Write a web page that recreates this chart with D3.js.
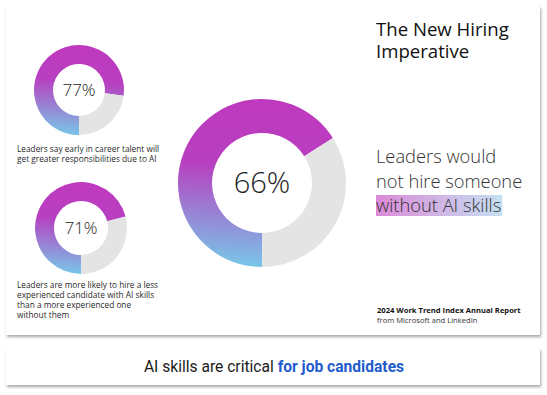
<!DOCTYPE html>
<html>
<head>
<meta charset="utf-8">
<script src="https://cdn.jsdelivr.net/npm/d3@7"></script>
<style>
  body { margin: 0; background: #fff; }
  svg { display: block; }
</style>
</head>
<body>
<script>
// values
const shares = [77, 71, 66];
const shareLabels = ['77%', '71%', '66%'];
const captionSmall1 = ['Leaders say early in career talent will', 'get greater responsibilities due to AI'];
const captionSmall2 = ['Leaders are more likely to hire a less', 'experienced candidate with AI skills', 'than a more experienced one', 'without them'];
const titleLines = ['The New Hiring', 'Imperative'];
const claimLines = ['Leaders would', 'not hire someone'];
const claimHighlight = 'without AI skills';
const sourceLines = ['2024 Work Trend Index Annual Report', 'from Microsoft and LinkedIn'];
const bannerParts = ['AI skills are critical ', 'for job candidates'];

const width = 547;
const height = 395;
const font = '"Open Sans", "Noto Sans", sans-serif';

const svg = d3.select('body').append('svg').attr('width', width).attr('height', height);
const defs = svg.append('defs');

// card shadow
const shadow = defs.append('filter').attr('id', 'shadow').attr('x', '-5%').attr('y', '-5%').attr('width', '110%').attr('height', '115%');
shadow.append('feDropShadow').attr('dx', 1).attr('dy', 2).attr('stdDeviation', 1.6).attr('flood-color', '#000').attr('flood-opacity', 0.35);

const hlGrad = defs.append('linearGradient').attr('id', 'hl').attr('x1', 0).attr('y1', 0).attr('x2', 1).attr('y2', 0);
hlGrad.append('stop').attr('offset', 0).attr('stop-color', '#dc8ad9');
hlGrad.append('stop').attr('offset', 1).attr('stop-color', '#c4e0f2');

// cards
svg.append('rect').attr('x', 6).attr('y', 6).attr('width', 534).attr('height', 329)
	.attr('fill', '#fff').attr('filter', 'url(#shadow)');
svg.append('rect').attr('x', 6).attr('y', 348).attr('width', 534).attr('height', 37)
	.attr('fill', '#fff').attr('filter', 'url(#shadow)');

/*
	donuts
*/
const donutLayout = [
	{ cx: 79, cy: 90, r: 45, inner: 26, fontSize: 17 },
	{ cx: 81, cy: 228, r: 46, inner: 27, fontSize: 17 },
	{ cx: 262, cy: 183, r: 84, inner: 50, fontSize: 29 }
];

const pie = d3.pie().sort(null).startAngle(Math.PI).endAngle(3 * Math.PI);

shares.forEach((share, i) => {
	const l = donutLayout[i];
	const arc = d3.arc().innerRadius(l.inner).outerRadius(l.r);
	const g = svg.append('g').attr('transform', `translate(${l.cx},${l.cy})`);
	const slices = pie([share, 100 - share]);

	// gradient box spans the ring
	const grad = defs.append('linearGradient').attr('id', 'ring' + i)
		.attr('gradientUnits', 'userSpaceOnUse')
		.attr('x1', 0).attr('y1', -l.r).attr('x2', -l.r * 0.15).attr('y2', l.r);
	grad.append('stop').attr('offset', 0).attr('stop-color', '#bf39be');
	grad.append('stop').attr('offset', 0.4).attr('stop-color', '#b83fc0');
	grad.append('stop').attr('offset', 1).attr('stop-color', '#78c6e8');

	g.selectAll('path').data(slices).join('path')
		.attr('d', arc)
		.attr('fill', (d, j) => (j === 0 ? `url(#ring${i})` : '#e4e4e4'));

	g.append('text')
		.attr('text-anchor', 'middle')
		.attr('dy', '0.35em')
		.style('font-family', font)
		.style('font-weight', 300)
		.style('font-size', l.fontSize + 'px')
		.attr('fill', '#222')
		.text(shareLabels[i]);
});

// captions under the small donuts
const captions = [
	{ lines: captionSmall1, x: 17, y: 152 },
	{ lines: captionSmall2, x: 17, y: 288 }
];
captions.forEach((c) => {
	svg.append('g').selectAll('text').data(c.lines).join('text')
		.attr('x', c.x)
		.attr('y', (d, i) => c.y + i * 10)
		.style('font-family', font)
		.style('font-size', '8.3px')
		.attr('fill', '#2a2a2a')
		.text((d) => d);
});

// title
svg.append('g').selectAll('text').data(titleLines).join('text')
	.attr('x', 376)
	.attr('y', (d, i) => 36 + i * 22)
	.style('font-family', font)
	.style('font-size', '18.6px')
	.attr('fill', '#111')
	.text((d) => d);

// claim
const claimX = 376;
const hlRect = svg.append('rect').attr('x', claimX).attr('y', 195).attr('height', 21).attr('fill', 'url(#hl)');
const claim = svg.append('g').selectAll('text').data(claimLines.concat([claimHighlight])).join('text')
	.attr('x', claimX)
	.attr('y', (d, i) => 163 + i * 24.5)
	.style('font-family', font)
	.style('font-weight', 300)
	.style('font-size', '18.3px')
	.attr('fill', '#333')
	.text((d) => d);
hlRect.attr('width', claim.nodes()[2].getComputedTextLength() + 1);

// source
svg.append('g').selectAll('text').data(sourceLines).join('text')
	.attr('x', 377)
	.attr('y', (d, i) => 313 + i * 10)
	.style('font-family', font)
	.style('font-weight', (d, i) => (i === 0 ? 700 : 400))
	.style('font-size', '7.6px')
	.attr('fill', (d, i) => (i === 0 ? '#111' : '#333'))
	.text((d) => d);

// banner
const banner = svg.append('text')
	.attr('x', 274)
	.attr('y', 372)
	.attr('text-anchor', 'middle')
	.style('font-family', 'Roboto, sans-serif')
	.style('font-size', '15.6px');
banner.append('tspan').attr('fill', '#1b1b1b').text(bannerParts[0]);
banner.append('tspan').attr('fill', '#1f5ccc').style('font-weight', 700).text(bannerParts[1]);
</script>
</body>
</html>
